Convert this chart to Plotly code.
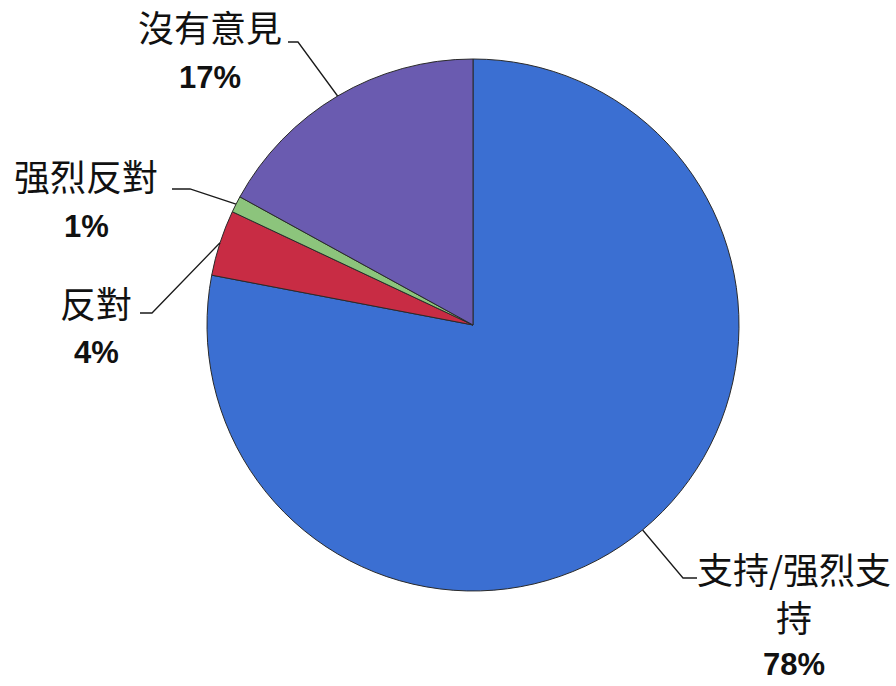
import math
import plotly.graph_objects as go

labels = ["支持/强烈支持", "反對", "强烈反對", "沒有意見"]
values = [78, 4, 1, 17]
colors = ["#3b6fd2", "#c82c44", "#8cc47c", "#6a5bb0"]
label_lines = [["支持/强烈支", "持"], ["反對"], ["强烈反對"], ["沒有意見"]]
pct_text = ["78%", "4%", "1%", "17%"]

W, H = 896, 686
cx, cy, R = 473, 325, 266

# label layout (pixel positions): text centre x, first line y, line spacing, leader elbow, leader end
label_pos = [
    dict(x=794, y=568, dy=48, elbow=(683, 578), end=(697, 578)),
    dict(x=96, y=302, dy=50, elbow=(152, 313), end=(140, 313)),
    dict(x=86, y=175, dy=51, elbow=(190, 189), end=(172, 189)),
    dict(x=210, y=26, dy=51, elbow=(298, 42), end=(288, 42)),
]

fig = go.Figure()
fig.add_trace(go.Pie(
    labels=labels, values=values, sort=False, direction="clockwise", rotation=0,
    marker=dict(colors=colors, line=dict(color="#2a2a2a", width=1)),
    textinfo="none", hoverinfo="label+percent", showlegend=False,
    domain=dict(x=[(cx - R) / W, (cx + R) / W], y=[(H - cy - R) / H, (H - cy + R) / H]),
))

shapes = []
annotations = []
total = sum(values)
cum = 0
for i, v in enumerate(values):
    mid = (cum + v / 2) / total * 2 * math.pi
    cum += v
    ex = cx + R * math.sin(mid)
    ey = cy - R * math.cos(mid)
    p = label_pos[i]
    path = f"M {ex:.1f},{ey:.1f} L {p['elbow'][0]},{p['elbow'][1]} L {p['end'][0]},{p['end'][1]}"
    shapes.append(dict(type="path", path=path, xref="x", yref="y",
                       line=dict(color="#1a1a1a", width=1.3)))
    y = p["y"]
    for line in label_lines[i]:
        annotations.append(dict(x=p["x"], y=y, xref="x", yref="y", text=line, showarrow=False,
                                xanchor="center", yanchor="middle",
                                font=dict(family="Noto Sans CJK TC", size=36, color="#111111")))
        y += p["dy"]
    annotations.append(dict(x=p["x"], y=y, xref="x", yref="y", text=pct_text[i], showarrow=False,
                            xanchor="center", yanchor="middle",
                            font=dict(family="Liberation Sans", size=31, color="#111111", weight="bold")))

fig.update_layout(
    width=W, height=H, margin=dict(l=0, r=0, t=0, b=0),
    paper_bgcolor="white", plot_bgcolor="rgba(0,0,0,0)",
    xaxis=dict(range=[0, W], visible=False, fixedrange=True),
    yaxis=dict(range=[H, 0], visible=False, fixedrange=True),
    shapes=shapes, annotations=annotations,
)
fig.write_html("out.html", config={"displayModeBar": False},
               post_script="document.body.style.margin='0';document.body.style.overflow='hidden';")
